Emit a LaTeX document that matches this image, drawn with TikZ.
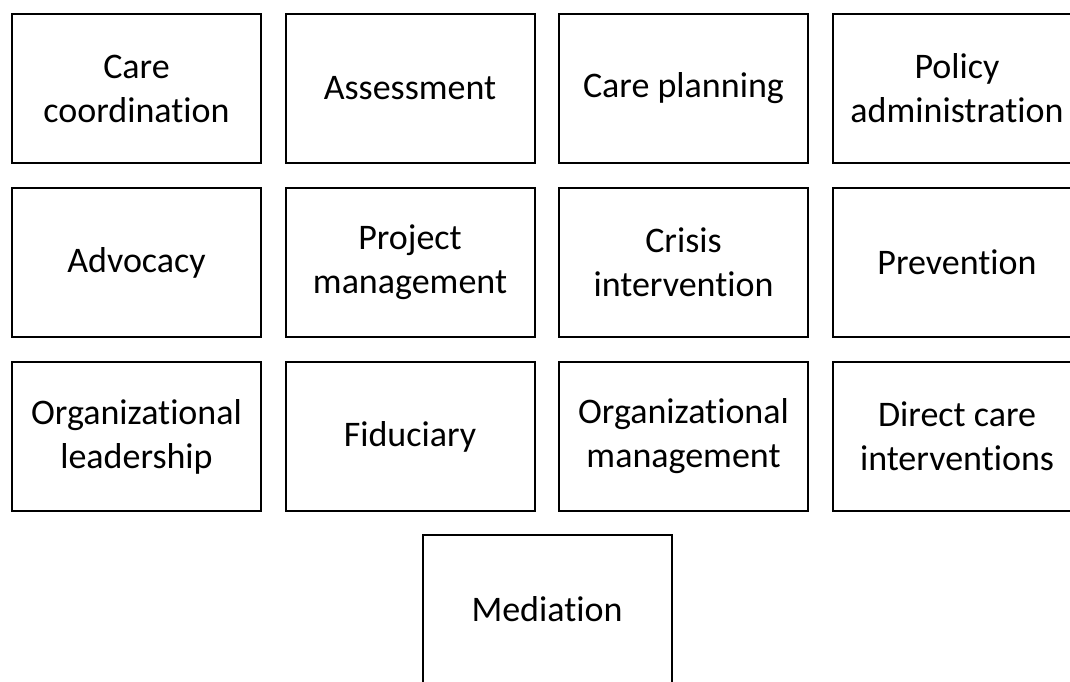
\documentclass[tikz,border=0pt]{standalone}
\usepackage{fontspec}
\setmainfont{Carlito}[Ligatures=CommonOff]
\usepackage{tikz}
\usetikzlibrary{positioning}

\begin{document}
\begin{tikzpicture}[
    x=1pt, y=-1pt,
    every node/.style={font=\fontsize{36}{44}\selectfont},
    % Role boxes
    role/.style={rectangle, draw=black, line width=2pt, fill=white, minimum width=249pt, minimum height=149pt, inner sep=0pt, align=center}
]

\useasboundingbox (0,0) rectangle (1070,681);
\clip (0,0) rectangle (1070,681);

% First row
\node[role] (carecoord) at (136.5, 88.5) {Care\\coordination};
\node[role] (assess) at (410, 88.5) {Assessment};
\node[role] (careplan) at (683.5, 88.5) {Care planning};
\node[role] (policy) at (957, 88.5) {Policy\\administration};

% Second row
\node[role] (advocacy) at (136.5, 262.5) {Advocacy};
\node[role] (project) at (410, 262.5) {Project\\management};
\node[role] (crisis) at (683.5, 262.5) {Crisis\\intervention};
\node[role] (prevent) at (957, 262.5) {Prevention};

% Third row
\node[role] (orglead) at (136.5, 436.5) {Organizational\\leadership};
\node[role] (fiduciary) at (410, 436.5) {Fiduciary};
\node[role] (orgmgmt) at (683.5, 436.5) {Organizational\\management};
\node[role] (directcare) at (957, 436.5) {Direct care\\interventions};

% Bottom
\node[role] (mediation) at (547, 609.5) {Mediation};

\end{tikzpicture}
\end{document}
